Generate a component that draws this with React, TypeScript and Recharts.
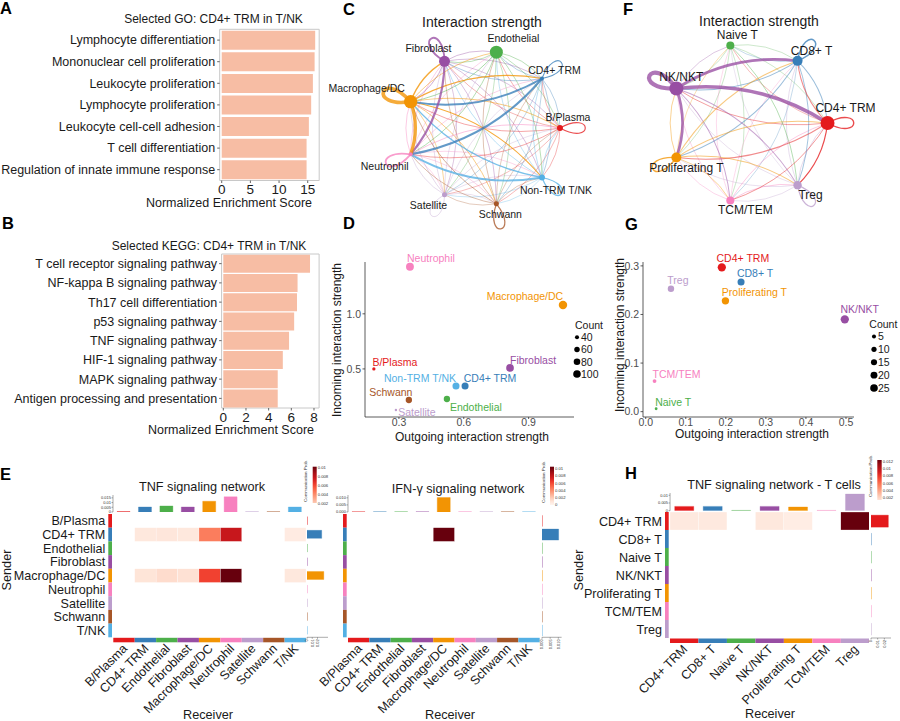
import React from "react";
import {
  BarChart,
  Bar,
  XAxis,
  YAxis,
  Cell,
  ReferenceArea,
  ScatterChart,
  Scatter,
  ZAxis,
} from "recharts";

const FONT = "'Liberation Sans', Arial, Helvetica, sans-serif";
const INK = "#1a1a1a";

// ---- A: GO enrichment
const GO_TERMS = [
  "Lymphocyte differentiation",
  "Mononuclear cell proliferation",
  "Leukocyte proliferation",
  "Lymphocyte proliferation",
  "Leukocyte cell-cell adhesion",
  "T cell differentiation",
  "Regulation of innate immune response",
];
const GO_NES = [16.3, 16.2, 15.9, 15.6, 15.2, 14.8, 14.8];

// ---- B: KEGG enrichment
const KEGG_TERMS = [
  "T cell receptor signaling pathway",
  "NF-kappa B signaling pathway",
  "Th17 cell differentiation",
  "p53 signaling pathway",
  "TNF signaling pathway",
  "HIF-1 signaling pathway",
  "MAPK signaling pathway",
  "Antigen processing and presentation",
];
const KEGG_NES = [7.65, 6.55, 6.5, 6.25, 5.8, 5.25, 4.8, 4.8];

// ---- C / D: all cell types
const C_CELLS = ["B/Plasma", "CD4+ TRM", "Endothelial", "Fibroblast", "Macrophage/DC", "Neutrophil", "Satellite", "Schwann", "Non-TRM T/NK"];
const C_COLORS = ["#E41A1C", "#377EB8", "#4DAF4A", "#984EA3", "#F29403", "#F781BF", "#BC9DCC", "#A65628", "#54B0E4"];
const C_NODE_SIZE = [0.2, 0.09, 0.94, 0.67, 1, 0.09, 0.14, 0.14, 0.2];
// sender rows -> receiver columns
const C_WEIGHTS = [
  [0.22, 0.06, 0.06, 0.06, 0.1, 0.1, 0.04, 0.05, 0.06],
  [0.08, 0.2, 0.08, 0.1, 0.45, 0.5, 0.05, 0.06, 0.08],
  [0.08, 0.1, 0, 0.1, 0.15, 0.12, 0.06, 0.06, 0.1],
  [0.07, 0.08, 0.1, 0.45, 0.15, 0.55, 0.06, 0.08, 0.08],
  [0.18, 0.25, 0.15, 0.3, 1, 0.9, 0.1, 0.15, 0.2],
  [0.15, 0.08, 0.06, 0.1, 0.12, 0.45, 0.05, 0.06, 0.06],
  [0.05, 0.05, 0.06, 0.08, 0.1, 0.08, 0.1, 0.05, 0.05],
  [0.05, 0.05, 0.08, 0.08, 0.15, 0.1, 0.05, 0.25, 0.05],
  [0.08, 0.1, 0.08, 0.1, 0.3, 0.45, 0.05, 0.05, 0.25],
];
const D_OUT = [0.184, 0.606, 0.522, 0.814, 1.059, 0.351, 0.286, 0.346, 0.564];
const D_IN = [0.5, 0.345, 0.227, 0.509, 1.08, 1.427, 0.127, 0.218, 0.345];
const D_COUNT = [33, 95, 80, 110, 130, 115, 25, 80, 95];
const D_LEGEND = [40, 60, 80, 100];

// ---- F / G: T cells
const F_CELLS = ["CD4+ TRM", "CD8+ T", "Naive T", "NK/NKT", "Proliferating T", "TCM/TEM", "Treg"];
const F_COLORS = ["#E41A1C", "#377EB8", "#4DAF4A", "#984EA3", "#F29403", "#F781BF", "#BC9DCC"];
const F_NODE_SIZE = [1, 0.51, 0.33, 1, 0.51, 0.33, 0.36];
const F_WEIGHTS = [
  [0.25, 0.15, 0.04, 0.1, 0.15, 0.12, 0.2],
  [0.15, 0.25, 0.03, 0.15, 0.15, 0.03, 0.12],
  [0.03, 0.03, 0, 0.03, 0.03, 0.03, 0.1],
  [0.8, 0.65, 0.05, 1, 0.6, 0.15, 0.15],
  [0.15, 0.15, 0.04, 0.1, 0.25, 0.1, 0.15],
  [0.1, 0.03, 0.03, 0.05, 0.05, 0, 0.1],
  [0.08, 0.06, 0.02, 0.05, 0.05, 0.05, 0.2],
];
const G_OUT = [0.19, 0.238, 0.026, 0.497, 0.199, 0.022, 0.063];
const G_IN = [0.297, 0.267, 0.006, 0.19, 0.228, 0.063, 0.253];
const G_COUNT = [30, 21, 1, 30, 23, 4, 17];
const G_LEGEND = [5, 10, 15, 20, 25];

// ---- E / H: signaling heatmaps
const E_CELLS = ["B/Plasma", "CD4+ TRM", "Endothelial", "Fibroblast", "Macrophage/DC", "Neutrophil", "Satellite", "Schwann", "T/NK"];
const E_COLORS = C_COLORS;
const E_TNF = [
  [0, 0, 0, 0, 0, 0, 0, 0, 0],
  [0, 0.0008, 0.0009, 0.0008, 0.0045, 0.0078, 0, 0, 0.0006],
  [0, 0, 0, 0, 0, 0, 0, 0, 0],
  [0, 0, 0, 0, 0, 0, 0, 0, 0],
  [0, 0.001, 0.0014, 0.0012, 0.0062, 0.0102, 0, 0, 0.0008],
  [0, 0, 0, 0, 0, 0, 0, 0, 0],
  [0, 0, 0, 0, 0, 0, 0, 0, 0],
  [0, 0, 0, 0, 0, 0, 0, 0, 0],
  [0, 0, 0, 0, 0, 0, 0, 0, 0],
];
const E_TNF_TOP = [0.0004, 0.0053, 0.0064, 0.0053, 0.0114, 0.0161, 0.0002, 0.0002, 0.0053];
const E_TNF_RIGHT = [0.0004, 0.028, 0.0003, 0.0003, 0.032, 0.0003, 0.0003, 0.0003, 0.0003];
const E_IFN = [
  [0, 0, 0, 0, 0, 0, 0, 0, 0],
  [0, 0, 0, 0, 0.0102, 0, 0, 0, 0],
  [0, 0, 0, 0, 0, 0, 0, 0, 0],
  [0, 0, 0, 0, 0, 0, 0, 0, 0],
  [0, 0, 0, 0, 0, 0, 0, 0, 0],
  [0, 0, 0, 0, 0, 0, 0, 0, 0],
  [0, 0, 0, 0, 0, 0, 0, 0, 0],
  [0, 0, 0, 0, 0, 0, 0, 0, 0],
  [0, 0, 0, 0, 0, 0, 0, 0, 0],
];
const E_IFN_TOP = [0.0001, 0.0001, 0.0001, 0.0001, 0.0102, 0.0001, 0.0001, 0.0001, 0.0001];
const E_IFN_RIGHT = [0.0001, 0.0102, 0.0001, 0.0001, 0.0001, 0.0001, 0.0001, 0.0001, 0.0001];
const H_TNF = [
  [0.0009, 0.0009, 0, 0.001, 0.0006, 0, 0.0125],
  [0, 0, 0, 0, 0, 0, 0],
  [0, 0, 0, 0, 0, 0, 0],
  [0, 0, 0, 0, 0, 0, 0],
  [0, 0, 0, 0, 0, 0, 0],
  [0, 0, 0, 0, 0, 0, 0],
  [0, 0, 0, 0, 0, 0, 0],
];
const H_TOP = [0.0028, 0.0028, 0.0002, 0.0028, 0.0024, 0.0002, 0.0108];
const H_RIGHT = [0.026, 0.0002, 0.0002, 0.0002, 0.0002, 0.0002, 0.0002];

// label offsets (px) from node / point centres
const C_LABEL: Record<string, number[]> = {
  "B/Plasma": [8, -11], "CD4+ TRM": [12.5, -9], Endothelial: [17, -14], Fibroblast: [-16, -13],
  "Macrophage/DC": [-44, -14], Neutrophil: [-26, 12], Satellite: [-16, 10], Schwann: [4, 10], "Non-TRM T/NK": [14, 13],
};
const F_LABEL: Record<string, number[]> = {
  "Naive T": [7, -10.5], "CD8+ T": [14, -10], "CD4+ TRM": [18, -15], Treg: [13, 10],
  "TCM/TEM": [15, 9], "Proliferating T": [10, 11], "NK/NKT": [5, -12],
};
const D_LABEL: Record<string, number[]> = {
  Neutrophil: [21, -9], "Macrophage/DC": [-38, -9], Fibroblast: [23, -8], "B/Plasma": [21, -7],
  "Non-TRM T/NK": [-36, -8], "CD4+ TRM": [25, -8], Schwann: [-18, -8], Endothelial: [29, 8], Satellite: [21, 2],
};
const G_LABEL: Record<string, number[]> = {
  "CD4+ TRM": [21, -9], "CD8+ T": [14, -9], Treg: [7, -9], "Proliferating T": [29, -9],
  "NK/NKT": [15, -10], "TCM/TEM": [22, -7], "Naive T": [17, -7],
};

const REDS = ["#FFF5F0", "#FEE0D2", "#FCBBA1", "#FC9272", "#FB6A4A", "#EF3B2C", "#CB181D", "#A50F15", "#67000D"];

function mix(a: string, b: string, t: number) {
  const pa = [1, 3, 5].map((k) => parseInt(a.slice(k, k + 2), 16));
  const pb = [1, 3, 5].map((k) => parseInt(b.slice(k, k + 2), 16));
  return `rgb(${pa.map((v, i) => Math.round(v + (pb[i] - v) * t)).join(",")})`;
}

function heatColor(v: number, max: number) {
  const t = Math.max(0, Math.min(1, v / max)) * (REDS.length - 1);
  const i = Math.min(REDS.length - 2, Math.floor(t));
  return mix(REDS[i], REDS[i + 1], t - i);
}

const emptyShape = () => <g />;

function EnrichBars({ left, top, width, height, terms, values, domain, ticks, yw, margin, gap }: any) {
  const data = terms.map((term: string, i: number) => ({ term, nes: values[i] }));
  return (
    <div style={{ position: "absolute", left, top }}>
      <BarChart width={width} height={height} data={data} layout="vertical" margin={margin} barCategoryGap={gap}>
        <XAxis
          type="number"
          domain={domain}
          ticks={ticks}
          allowDataOverflow
          interval={0}
          height={20}
          axisLine={false}
          tickSize={2.5}
          tickMargin={1.5}
          tickLine={{ stroke: "#666" }}
          tick={{ fontSize: 13.5, fill: INK, fontFamily: FONT }}
        />
        <YAxis
          type="category"
          dataKey="term"
          width={yw}
          interval={0}
          axisLine={false}
          tickSize={2.5}
          tickMargin={2}
          tickLine={{ stroke: "#666" }}
          tick={(p: any) => (
            <text x={p.x} y={p.y} dy="0.35em" textAnchor="end" fontSize={12.5} fill={INK} fontFamily={FONT}>
              {p.payload.value}
            </text>
          )}
        />
        <ReferenceArea x1={domain[0]} x2={domain[1]} fill="none" stroke="#c8c8c8" strokeWidth={1} />
        <Bar dataKey="nes" fill="#F7BDA4" isAnimationActive={false} />
      </BarChart>
    </div>
  );
}

const curvePath = (color: string, w: number, op: number) => (p: any) => {
  const pts = p.points || [];
  if (pts.length < 3) return <g />;
  const [a, c, b] = pts;
  return (
    <path d={`M${a.x},${a.y} Q${c.x},${c.y} ${b.x},${b.y}`} fill="none" stroke={color} strokeWidth={w} strokeOpacity={op} />
  );
};

const loopPath = (color: string, w: number, op: number) => (p: any) => {
  const pts = p.points || [];
  if (pts.length < 2) return <g />;
  const [a, t] = pts;
  const dx = t.x - a.x;
  const dy = t.y - a.y;
  const px = -dy * 0.55;
  const py = dx * 0.55;
  return (
    <path
      d={`M${a.x},${a.y} C${t.x + px},${t.y + py} ${t.x - px},${t.y - py} ${a.x},${a.y}`}
      fill="none"
      stroke={color}
      strokeWidth={w}
      strokeOpacity={op}
    />
  );
};

function Network({ cells, colors, sizes, weights, labels, cx, cy, unit, width, height, maxArea, fontSize, wScale }: any) {
  const n = cells.length;
  const nodes = cells.map((name: string, i: number) => {
    const a = (2 * Math.PI * i) / n;
    return { name, x: Math.cos(a), y: Math.sin(a), z: sizes[i], color: colors[i] };
  });
  const edges: any[] = [];
  weights.forEach((row: number[], i: number) =>
    row.forEach((w: number, j: number) => {
      if (!w) return;
      const s = nodes[i];
      const t = nodes[j];
      let pts;
      if (i === j) {
        const L = 0.42 + 0.08 * w;
        pts = [
          { x: s.x, y: s.y, z: 0 },
          { x: s.x * (1 + L), y: s.y * (1 + L), z: 0 },
        ];
      } else {
        const dx = t.x - s.x;
        const dy = t.y - s.y;
        pts = [
          { x: s.x, y: s.y, z: 0 },
          { x: (s.x + t.x) / 2 - 0.18 * dy, y: (s.y + t.y) / 2 + 0.18 * dx, z: 0 },
          { x: t.x, y: t.y, z: 0 },
        ];
      }
      edges.push({ key: `${i}-${j}`, w, loop: i === j, color: colors[i], pts });
    })
  );
  edges.sort((a, b) => a.w - b.w);
  const hx = width / 2 / unit;
  const hy = height / 2 / unit;
  return (
    <div style={{ position: "absolute", left: cx - width / 2, top: cy - height / 2 }}>
      <ScatterChart width={width} height={height} margin={{ top: 0, right: 0, bottom: 0, left: 0 }}>
        <XAxis type="number" dataKey="x" domain={[-hx, hx]} hide />
        <YAxis type="number" dataKey="y" domain={[-hy, hy]} hide />
        <ZAxis type="number" dataKey="z" domain={[0, 1]} range={[0, maxArea]} />
        {edges.map((e) => {
          const sw = 0.45 + wScale * e.w;
          const op = e.w < 0.2 ? 0.5 : 0.78;
          return (
            <Scatter
              key={e.key}
              data={e.pts}
              isAnimationActive={false}
              shape={emptyShape}
              line={e.loop ? loopPath(e.color, sw, op) : curvePath(e.color, sw, op)}
            />
          );
        })}
        <Scatter
          data={nodes}
          isAnimationActive={false}
          shape={(p: any) => {
            const d = p.payload;
            const off = labels[d.name] || [0, 0];
            return (
              <g>
                <circle cx={p.cx} cy={p.cy} r={p.width / 2} fill={d.color} />
                <text
                  x={p.cx + off[0]}
                  y={p.cy + off[1]}
                  textAnchor="middle"
                  dominantBaseline="central"
                  fontSize={fontSize}
                  fill={INK}
                  fontFamily={FONT}
                >
                  {d.name}
                </text>
              </g>
            );
          }}
        />
      </ScatterChart>
    </div>
  );
}

function StrengthScatter({ left, top, width, names, colors, xs, ys, counts, xDomain, yDomain, xTicks, yTicks, zDomain, zRange, labels, ml, mr }: any) {
  const data = names.map((name: string, i: number) => ({ name, x: xs[i], y: ys[i], count: counts[i], color: colors[i] }));
  const axisStyle = { stroke: "#333", strokeWidth: 0.8 };
  return (
    <div style={{ position: "absolute", left, top }}>
      <ScatterChart width={width} height={210} margin={{ top: 22, right: mr, bottom: 13, left: ml }}>
        <XAxis
          type="number"
          dataKey="x"
          domain={xDomain}
          ticks={xTicks}
          interval={0}
          height={20}
          tickFormatter={(v: number) => v.toFixed(1)}
          tick={{ fontSize: 10.5, fill: "#4d4d4d", fontFamily: FONT }}
          tickSize={2}
          tickMargin={0}
          axisLine={axisStyle}
          tickLine={axisStyle}
        />
        <YAxis
          type="number"
          dataKey="y"
          domain={yDomain}
          ticks={yTicks}
          interval={0}
          width={25}
          tickFormatter={(v: number) => v.toFixed(1)}
          tick={{ fontSize: 10.5, fill: "#4d4d4d", fontFamily: FONT }}
          tickSize={2.5}
          tickMargin={1.5}
          axisLine={axisStyle}
          tickLine={axisStyle}
        />
        <ZAxis type="number" dataKey="count" domain={zDomain} range={zRange} />
        <Scatter
          data={data}
          isAnimationActive={false}
          shape={(p: any) => {
            const d = p.payload;
            const off = labels[d.name] || [0, 0];
            return (
              <g>
                <circle cx={p.cx} cy={p.cy} r={p.width / 2} fill={d.color} />
                <text
                  x={p.cx + off[0]}
                  y={p.cy + off[1]}
                  textAnchor="middle"
                  dominantBaseline="central"
                  fontSize={10.5}
                  fill={d.color}
                  fontFamily={FONT}
                >
                  {d.name}
                </text>
              </g>
            );
          }}
        />
      </ScatterChart>
    </div>
  );
}

function SizeLegend({ left, top, values, step, zDomain, zRange }: any) {
  const data = values.map((v: number, i: number) => ({ x: 0, y: i, count: v }));
  return (
    <div style={{ position: "absolute", left: left - 10, top }}>
      <ScatterChart width={40} height={values.length * step} margin={{ top: 0, right: 0, bottom: 0, left: 0 }}>
        <XAxis type="number" dataKey="x" domain={[-0.5, 1.5]} hide />
        <YAxis type="number" dataKey="y" domain={[-0.5, values.length - 0.5]} reversed hide />
        <ZAxis type="number" dataKey="count" domain={zDomain} range={zRange} />
        <Scatter
          data={data}
          isAnimationActive={false}
          shape={(p: any) => (
            <g>
              <circle cx={p.cx} cy={p.cy} r={p.width / 2} fill="#000" />
              <text x={p.cx + 4} y={p.cy} dy="0.36em" fontSize={10.5} fill={INK} fontFamily={FONT}>
                {p.payload.count}
              </text>
            </g>
          )}
        />
      </ScatterChart>
    </div>
  );
}

function Heatmap(h: any) {
  const { rows, cols, rowColors, colColors, values, mx, my, cw, ch, lw, bh, rowLabels } = h;
  const mw = cw * cols.length;
  const mh = ch * rows.length;
  const cells: any[] = [];
  values.forEach((row: number[], r: number) =>
    row.forEach((v: number, c: number) => {
      if (v > 0) cells.push({ row: r, col: c, v });
    })
  );
  const vmax = Math.max(...cells.map((d) => d.v));
  const topData = cols.map((name: string, i: number) => ({ name, v: h.top[i] }));
  const rightData = rows.map((name: string, i: number) => ({ name, v: h.right[i] }));
  const tiny = { fontSize: 4, fill: "#333", fontFamily: FONT };
  const thin = { stroke: "#555", strokeWidth: 0.5 };
  return (
    <>
      <div style={{ position: "absolute", left: mx - lw, top: my }}>
        <ScatterChart width={lw + mw} height={mh + bh} margin={{ top: 0, right: 0, bottom: 0, left: 0 }}>
          <XAxis
            type="number"
            dataKey="col"
            domain={[-0.5, cols.length - 0.5]}
            ticks={cols.map((_: any, i: number) => i)}
            interval={0}
            height={bh}
            axisLine={false}
            tickLine={false}
            tickSize={0}
            tickMargin={0}
            tick={(p: any) => {
              const i = p.payload.value;
              const ax = p.x + 4;
              const ay = p.y + 12;
              return (
                <g>
                  <rect x={p.x - cw / 2} y={p.y + 0.5} width={cw} height={4.5} fill={colColors[i]} />
                  <text
                    x={ax}
                    y={ay}
                    transform={`rotate(-45 ${ax} ${ay})`}
                    textAnchor="end"
                    fontSize={12.6}
                    fill={INK}
                    fontFamily={FONT}
                  >
                    {cols[i]}
                  </text>
                </g>
              );
            }}
          />
          <YAxis
            type="number"
            dataKey="row"
            domain={[-0.5, rows.length - 0.5]}
            reversed
            ticks={rows.map((_: any, i: number) => i)}
            interval={0}
            width={lw}
            axisLine={false}
            tickLine={false}
            tickSize={0}
            tickMargin={0}
            tick={(p: any) => {
              const i = p.payload.value;
              return (
                <g>
                  <rect x={p.x - 5} y={p.y - ch / 2} width={3.7} height={ch} fill={rowColors[i]} />
                  {rowLabels ? (
                    <text x={p.x - 8} y={p.y} dy="0.36em" textAnchor="end" fontSize={12.6} fill={INK} fontFamily={FONT}>
                      {rows[i]}
                    </text>
                  ) : null}
                </g>
              );
            }}
          />
          <Scatter
            data={cells}
            isAnimationActive={false}
            shape={(p: any) => (
              <rect
                x={p.cx - cw / 2}
                y={p.cy - ch / 2}
                width={cw}
                height={ch}
                fill={heatColor(p.payload.v, vmax)}
                stroke="#fff"
                strokeWidth={0.3}
              />
            )}
          />
        </ScatterChart>
      </div>
      <div style={{ position: "absolute", left: mx - h.taw, top: my - h.tgap - h.th }}>
        <BarChart
          width={h.taw + mw}
          height={h.th + 3}
          data={topData}
          margin={{ top: 0, right: 0, bottom: 3, left: 0 }}
          barCategoryGap={h.tbar}
        >
          <XAxis dataKey="name" hide />
          <YAxis
            width={h.taw}
            domain={[0, h.topMax]}
            ticks={h.topTicks}
            allowDataOverflow
            interval={0}
            tickFormatter={h.topFmt}
            tick={tiny}
            tickSize={1.5}
            tickMargin={0.5}
            axisLine={thin}
            tickLine={thin}
          />
          <Bar dataKey="v" isAnimationActive={false}>
            {topData.map((_: any, i: number) => (
              <Cell key={i} fill={colColors[i]} stroke={colColors[i]} strokeOpacity={0.55} strokeWidth={0.6} />
            ))}
          </Bar>
        </BarChart>
      </div>
      <div style={{ position: "absolute", left: mx + mw + h.rgap - 3, top: my }}>
        <BarChart
          layout="vertical"
          width={h.rw + 6}
          height={mh + 16}
          data={rightData}
          margin={{ top: 0, right: 3, bottom: 0, left: 3 }}
          barCategoryGap={h.rbar}
        >
          <YAxis type="category" dataKey="name" hide />
          <XAxis
            type="number"
            domain={[0, h.rightMax]}
            ticks={h.rightTicks}
            allowDataOverflow
            interval={0}
            height={16}
            tickSize={1.5}
            tickMargin={0.5}
            axisLine={thin}
            tickLine={thin}
            tick={(p: any) => (
              <text
                x={p.x}
                y={p.y}
                transform={`rotate(-90 ${p.x} ${p.y})`}
                textAnchor="end"
                dy="0.35em"
                fontSize={4}
                fill="#333"
                fontFamily={FONT}
              >
                {h.rightFmt(p.payload.value)}
              </text>
            )}
          />
          <Bar dataKey="v" isAnimationActive={false}>
            {rightData.map((_: any, i: number) => (
              <Cell key={i} fill={rowColors[i]} stroke={rowColors[i]} strokeOpacity={0.55} strokeWidth={0.6} />
            ))}
          </Bar>
        </BarChart>
      </div>
    </>
  );
}

function ColorBar({ id, x, y, w, h, lo, hi, vmax, ticks, fmt }: any) {
  return (
    <g>
      <defs>
        <linearGradient id={id} x1="0" y1="1" x2="0" y2="0">
          {Array.from({ length: 11 }, (_, k) => (
            <stop key={k} offset={k / 10} stopColor={heatColor(lo + ((hi - lo) * k) / 10, vmax)} />
          ))}
        </linearGradient>
      </defs>
      <rect x={x} y={y} width={w} height={h} fill={`url(#${id})`} />
      {ticks.map((t: number) => (
        <text key={t} x={x + w + 1} y={y + (h * (hi - t)) / (hi - lo)} dy="0.35em" fontSize={4.2} fill="#333" fontFamily={FONT}>
          {fmt(t)}
        </text>
      ))}
      <text
        transform={`translate(${x - 5.5},${y + h / 2 - 4}) rotate(-90)`}
        textAnchor="middle"
        fontSize={4.4}
        fill="#333"
        fontFamily={FONT}
      >
        Communication Prob.
      </text>
    </g>
  );
}

function Overlay() {
  const letter = (s: string, x: number, y: number) => (
    <text x={x} y={y} fontSize={16.5} fontWeight={700} fill="#000" fontFamily={FONT}>
      {s}
    </text>
  );
  const t = (s: string, x: number, y: number, size: number, anchor = "middle") => (
    <text x={x} y={y} fontSize={size} textAnchor={anchor} fill={INK} fontFamily={FONT}>
      {s}
    </text>
  );
  const vt = (s: string, x: number, y: number, size: number) => (
    <text transform={`translate(${x},${y}) rotate(-90)`} fontSize={size} textAnchor="middle" fill={INK} fontFamily={FONT}>
      {s}
    </text>
  );
  const f = (v: number) => (v === 0 ? "0" : String(+v.toFixed(3)));
  return (
    <svg width={900} height={721} style={{ position: "absolute", left: 0, top: 0, pointerEvents: "none" }}>
      {letter("A", 0, 13.5)}
      {letter("B", 2, 228.5)}
      {letter("C", 343, 14.5)}
      {letter("D", 343, 228.5)}
      {letter("E", 0, 479.5)}
      {letter("F", 623, 14.5)}
      {letter("G", 625, 229.5)}
      {letter("H", 625, 478.5)}
      {t("Selected GO: CD4+ TRM in T/NK", 213.5, 22.5, 12)}
      {t("Selected KEGG: CD4+ TRM in T/NK", 209, 250, 12)}
      {t("Normalized Enrichment Score", 229, 207, 12.5)}
      {t("Normalized Enrichment Score", 231, 434, 12.5)}
      {t("Interaction strength", 482, 26.5, 14)}
      {t("Interaction strength", 759, 26, 14)}
      {t("Outgoing interaction strength", 472, 441, 12)}
      {vt("Incoming interaction strength", 341, 340, 12)}
      {t("Outgoing interaction strength", 752, 438, 12)}
      {vt("Incoming interaction strength", 624, 335, 12)}
      {t("Count", 575, 328.5, 10.5, "start")}
      {t("Count", 869.3, 328, 10.5, "start")}
      {t("TNF signaling network", 202, 491, 12.7)}
      {t("IFN-γ signaling network", 458, 493, 12.7)}
      {t("TNF signaling network - T cells", 774, 489, 12.7)}
      {t("Receiver", 208, 718.5, 12.7)}
      {t("Receiver", 450, 718.5, 12.7)}
      {t("Receiver", 770, 718, 12.7)}
      {vt("Sender", 10.5, 570, 12.7)}
      {vt("Sender", 582.5, 570, 12.7)}
      <ColorBar id="cb1" x={312.7} y={466.7} w={4} h={36.3} lo={0.0021} hi={0.0102} vmax={0.0102} ticks={[0.01, 0.008, 0.006, 0.004, 0.002]} fmt={f} />
      <ColorBar id="cb2" x={550} y={466.7} w={4} h={38.3} lo={0} hi={0.0105} vmax={0.0102} ticks={[0.01, 0.008, 0.006, 0.004, 0.002, 0]} fmt={f} />
      <ColorBar id="cb3" x={877.3} y={460} w={4.4} h={40} lo={0.0014} hi={0.0124} vmax={0.0125} ticks={[0.012, 0.01, 0.008, 0.006, 0.004, 0.002]} fmt={f} />
    </svg>
  );
}

export default function App() {
  const fmt2 = (v: number) => (v === 0 ? "0" : String(v));
  const fmt3 = (v: number) => v.toFixed(3);
  return (
    <div
      style={{
        position: "absolute",
        left: 0,
        top: 0,
        width: 900,
        height: 721,
        background: "#fff",
        overflow: "hidden",
        fontFamily: FONT,
      }}
    >
      <EnrichBars
        left={0}
        top={0}
        width={330}
        height={210}
        terms={GO_TERMS}
        values={GO_NES}
        domain={[-0.35, 17]}
        ticks={[0, 5, 10, 15]}
        yw={219.7}
        margin={{ top: 29.3, right: 10.8, bottom: 9.5, left: 0 }}
        gap="6.5%"
      />
      <EnrichBars
        left={0}
        top={225}
        width={330}
        height={215}
        terms={KEGG_TERMS}
        values={KEGG_NES}
        domain={[-0.15, 8.45]}
        ticks={[0, 2, 4, 6, 8]}
        yw={221.6}
        margin={{ top: 29, right: 10.9, bottom: 12, left: 0 }}
        gap="4.5%"
      />
      <Network
        cells={C_CELLS}
        colors={C_COLORS}
        sizes={C_NODE_SIZE}
        weights={C_WEIGHTS}
        labels={C_LABEL}
        cx={483}
        cy={128}
        unit={77}
        width={330}
        height={264}
        maxArea={141}
        fontSize={10.5}
        wScale={3.2}
      />
      <Network
        cells={F_CELLS}
        colors={F_COLORS}
        sizes={F_NODE_SIZE}
        weights={F_WEIGHTS}
        labels={F_LABEL}
        cx={747.5}
        cy={123}
        unit={79.5}
        width={300}
        height={250}
        maxArea={154}
        fontSize={12}
        wScale={3.8}
      />
      <StrengthScatter
        left={330}
        top={240}
        width={260}
        names={C_CELLS}
        colors={C_COLORS}
        xs={D_OUT}
        ys={D_IN}
        counts={D_COUNT}
        xDomain={[0.143, 1.11]}
        yDomain={[0.064, 1.47]}
        xTicks={[0.3, 0.6, 0.9]}
        yTicks={[0.5, 1.0]}
        zDomain={[20, 120]}
        zRange={[2, 56]}
        labels={D_LABEL}
        ml={10}
        mr={16}
      />
      <SizeLegend left={577.3} top={331.2} values={D_LEGEND} step={12.3} zDomain={[20, 120]} zRange={[2, 56]} />
      <StrengthScatter
        left={610}
        top={240}
        width={290}
        names={F_CELLS}
        colors={F_COLORS}
        xs={G_OUT}
        ys={G_IN}
        counts={G_COUNT}
        xDomain={[-0.0068, 0.52]}
        yDomain={[-0.011, 0.308]}
        xTicks={[0, 0.1, 0.2, 0.3, 0.4, 0.5]}
        yTicks={[0, 0.1, 0.2, 0.3]}
        zDomain={[0, 30]}
        zRange={[4.5, 53.7]}
        labels={G_LABEL}
        ml={8}
        mr={46}
      />
      <SizeLegend left={874} top={330.2} values={G_LEGEND} step={12.9} zDomain={[0, 30]} zRange={[4.5, 53.7]} />
      <Heatmap
        rows={E_CELLS}
        cols={E_CELLS}
        rowColors={E_COLORS}
        colColors={E_COLORS}
        values={E_TNF}
        mx={113.3}
        my={514}
        cw={21.41}
        ch={13.7}
        lw={113.3}
        bh={100}
        rowLabels
        top={E_TNF_TOP}
        topMax={0.018}
        topTicks={[0, 0.005, 0.01, 0.015]}
        topFmt={fmt2}
        th={17}
        tgap={2.3}
        taw={16}
        tbar="19%"
        right={E_TNF_RIGHT}
        rightMax={0.04}
        rightTicks={[0, 0.01, 0.02]}
        rightFmt={fmt2}
        rw={21}
        rgap={0.6}
        rbar="19.5%"
      />
      <Heatmap
        rows={E_CELLS}
        cols={E_CELLS}
        rowColors={E_COLORS}
        colColors={E_COLORS}
        values={E_IFN}
        mx={348.3}
        my={514.3}
        cw={21.3}
        ch={13.7}
        lw={60}
        bh={100}
        rowLabels={false}
        top={E_IFN_TOP}
        topMax={0.012}
        topTicks={[0, 0.005, 0.01]}
        topFmt={fmt3}
        th={17}
        tgap={2.3}
        taw={16}
        tbar="19%"
        right={E_IFN_RIGHT}
        rightMax={0.012}
        rightTicks={[0, 0.005, 0.01]}
        rightFmt={fmt3}
        rw={19.6}
        rgap={1.5}
        rbar="10%"
      />
      <Heatmap
        rows={F_CELLS}
        cols={F_CELLS}
        rowColors={F_COLORS}
        colColors={F_COLORS}
        values={H_TNF}
        mx={670}
        my={512.3}
        cw={28.47}
        ch={18}
        lw={90}
        bh={100}
        rowLabels
        top={H_TOP}
        topMax={0.0115}
        topTicks={[0, 0.005, 0.01]}
        topFmt={fmt2}
        th={17.7}
        tgap={1.3}
        taw={16}
        tbar="16.5%"
        right={H_RIGHT}
        rightMax={0.03}
        rightTicks={[0, 0.01, 0.02]}
        rightFmt={fmt2}
        rw={20}
        rgap={1.4}
        rbar="17.5%"
      />
      <Overlay />
    </div>
  );
}
